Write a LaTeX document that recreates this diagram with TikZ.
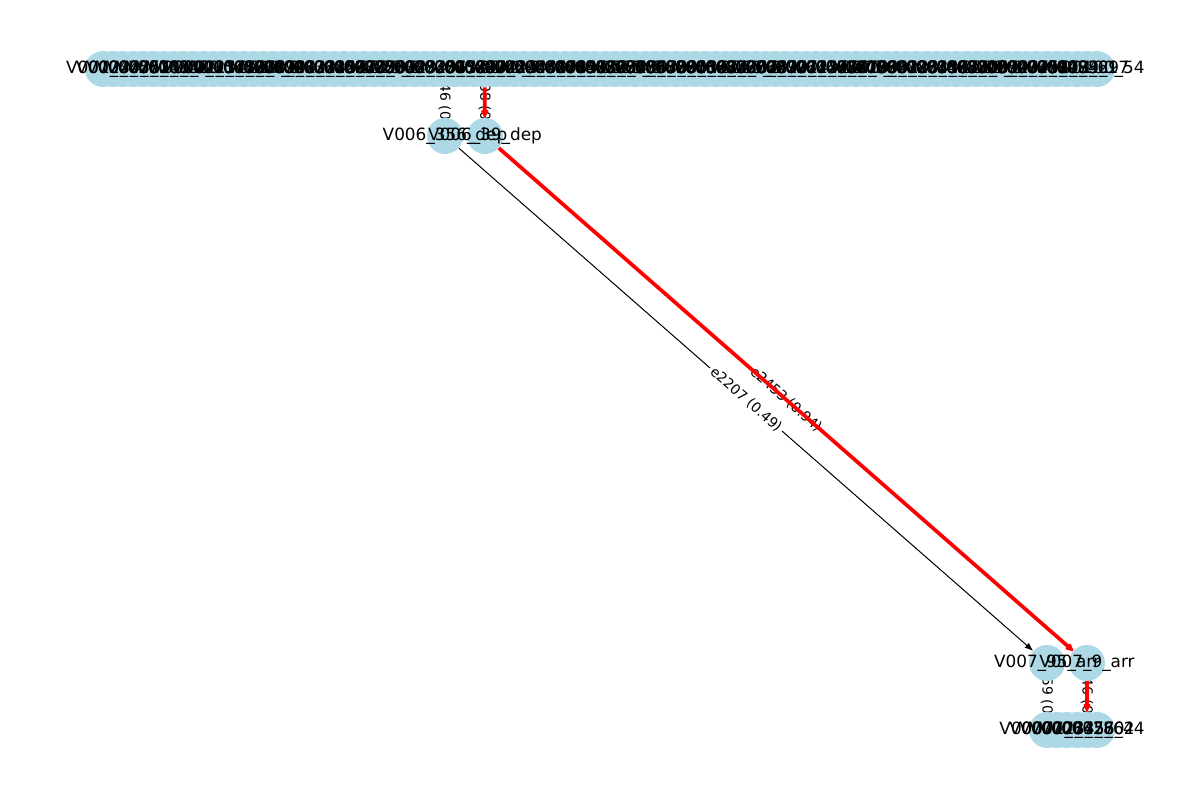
\documentclass[tikz,border=0pt]{standalone}
\usepackage{fontspec}
\setmainfont{DejaVu Sans}
\usetikzlibrary{arrows.meta}
\pgfdeclarelayer{back}
\pgfdeclarelayer{front}
\pgfsetlayers{back,main,front}
\definecolor{nodeblue}{RGB}{173,216,230}

\begin{document}
\begin{tikzpicture}[
  x=0.02cm, y=-0.02cm,
  >={Latex[length=1.7mm,width=1.3mm]},
  vert/.style={circle, fill=nodeblue, minimum size=7.2mm, inner sep=0pt},
  vlabel/.style={font=\fontsize{9.6}{11}\selectfont, inner sep=0pt},
  elabel/.style={font=\fontsize{7.9}{9}\selectfont, fill=white, inner sep=1.5pt, rounded corners=2pt},
  edge/.style={->, line width=0.57pt},
  hlpath/.style={-{Latex[length=2mm,width=1.8mm,round]}, red, line width=2.1pt}
]
\useasboundingbox (0,0) rectangle (1200,800);

% vertices
\foreach \i in {1,...,100}
  \node[vert] (t\i) at ({103+(\i-1)*10.04},69) {};
\foreach \i in {1,...,6}
  \node[vert] (b\i) at ({1047+(\i-1)*10},730) {};
\node[vert] (d356) at (445,136) {};
\node[vert] (d39) at (485,136) {};
\node[vert] (a95) at (1047,663) {};
\node[vert] (a9) at (1087,663) {};

% vertex labels
\foreach \i in {1,...,100} {
  \pgfmathtruncatemacro\n{mod(\i*37,89)+3}
  \node[vlabel] at (t\i) {V00\i\_\n};
}
\foreach \i in {1,...,6} {
  \pgfmathtruncatemacro\n{mod(\i*53,71)+10}
  \node[vlabel] at (b\i) {V0007\i\_\n};
}
\node[vlabel] at (d356) {V006\_356\_dep};
\node[vlabel] at (d39) {V006\_39\_dep};
\node[vlabel] at (a95) {V007\_95\_arr};
\node[vlabel] at (a9) {V007\_9\_arr};

% edges and their weights
\begin{pgfonlayer}{back}
\draw[edge] (t35) -- node[elabel, rotate=-90] {e2146 (0.52)} (d356);
\draw[edge] (d356) -- node[elabel, sloped] {e2207 (0.49)} (a95);
\draw[edge] (a95) -- node[elabel, rotate=-90] {e2359 (0.61)} (b1);
\path (t39) -- node[elabel, rotate=-90] {e2308 (0.87)} (d39);
\path (d39) -- node[elabel, sloped] {e2453 (0.94)} (a9);
\path (a9) -- node[elabel, rotate=-90] {e2446 (0.90)} (b5);
\end{pgfonlayer}

% highlighted path
\begin{pgfonlayer}{front}
\draw[hlpath] (t39) -- (d39);
\draw[hlpath] (d39) -- (a9);
\draw[hlpath] (a9) -- (b5);
\end{pgfonlayer}
\end{tikzpicture}
\end{document}
